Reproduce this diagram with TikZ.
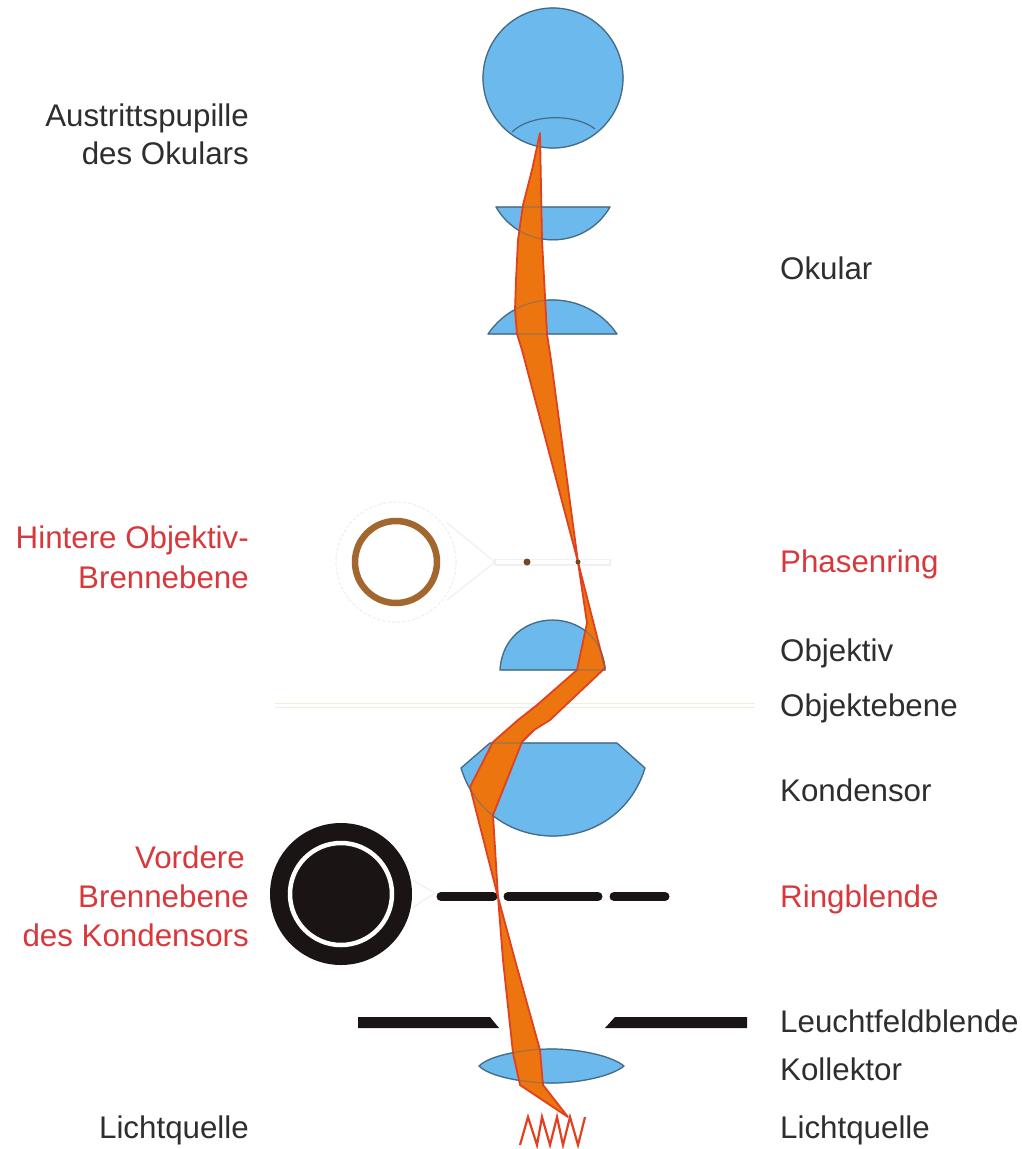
\documentclass[tikz,border=0pt]{standalone}
\usepackage{fontspec}
\setmainfont{Liberation Sans}
\definecolor{lensblue}{HTML}{6CB9EE}
\definecolor{lensline}{HTML}{456C86}
\definecolor{rayfill}{HTML}{EC7510}
\definecolor{rayline}{HTML}{E2401E}
\definecolor{redtext}{HTML}{D8383C}
\definecolor{blacktext}{HTML}{2E2E2E}
\definecolor{ringbrown}{HTML}{A2672F}
\definecolor{faintgrey}{HTML}{EEF0F1}
\definecolor{planeline}{HTML}{F1EDDD}
\definecolor{diskblack}{HTML}{1A1514}
\tikzset{
  lens/.style={fill=lensblue,draw=lensline,line width=1.2pt,line join=round},
  lensedge/.style={draw=lensline,line width=1.2pt,line join=round,draw opacity=.45},
  rayshape/.style={fill=rayfill,draw=rayline,line width=1.8pt,line join=round},
  bar/.style={draw=diskblack,line width=9pt,line cap=round},
  faint/.style={draw=faintgrey,line width=1.2pt},
  lab/.style={font=\fontsize{31.3}{31.3}\selectfont,inner sep=0pt,anchor=base},
  lleft/.style={lab,anchor=base east},
  lright/.style={lab,anchor=base west},
  blk/.style={text=blacktext},
  redl/.style={text=redtext}
}
\begin{document}
\begin{tikzpicture}[x=1pt,y=-1pt]
\useasboundingbox[fill=white] (0,0) rectangle (1022,1149);
% object plane
\draw[planeline,line width=1pt] (275,703.5) -- (755,703.5);
\draw[planeline,line width=1pt] (275,707) -- (755,707);
% eye
\path[lens] (553,78) circle[radius=70];
\draw[lensline,line width=1.2pt] (512,132) .. controls (530,114) and (575,113) .. (595,129);
% eyepiece lenses
\path[lens] (496,207) .. controls (521.3,250.8) and (584.7,250.8) .. (610,207) -- cycle;
\path[lens] (488,334) .. controls (519,288.6) and (586,288.6) .. (617,334) -- cycle;
% objective
\path[lens] (500,670) .. controls (504,603.4) and (601,603.4) .. (605,670) -- cycle;
% condenser
\path[lens] (490,743) -- (617,743) -- (645,768) .. controls (617.3,858.7) and (488.7,858.7) .. (461,768) -- cycle;
% collector
\path[lens] (479,1066) .. controls (490,1055) and (525,1049) .. (552,1049) .. controls (580,1049) and (612,1056) .. (624,1066)
  .. controls (612,1076) and (580,1083) .. (552,1083) .. controls (525,1083) and (490,1077) .. (479,1066) -- cycle;
% phase ring inset
\draw[faint,dash pattern=on 3pt off 2pt] (396,562) circle[radius=60];
\draw[faint] (447,523) -- (495,562) -- (447,600);
\draw[faint] (495,559.5) rectangle (610,565);
\draw[ringbrown,line width=6.5pt] (396,562) circle[radius=41];
\fill[ringbrown!70!black] (527,562) circle[radius=3.5];
% annular stop inset
\draw[faint] (412,880) -- (435,893) -- (412,908);
\fill[diskblack] (341,894) circle[radius=71];
\draw[white,line width=4.5pt] (341,894) circle[radius=51];
\draw[bar] (441,896.5) -- (493,896.5);
\draw[bar] (508,896.5) -- (598,896.5);
\draw[bar] (614,896.5) -- (665,896.5);
% field stop
\fill[diskblack] (358,1017) -- (490,1017) -- (499,1028) -- (358,1028) -- cycle;
\fill[diskblack] (615,1017) -- (747,1017) -- (747,1028) -- (605,1028) -- cycle;
% ray
\path[rayshape] (540,133) -- (532,170) -- (523,205) -- (518,240) -- (516,280) -- (515,310) -- (517,334) -- (522,350)
  -- (578,562) -- (587,623) -- (577,670) -- (537,705) -- (518,720) -- (493,742) -- (470,787)
  -- (498,897) -- (503,960) -- (513,1053) -- (520,1085) -- (568,1117)
  -- (543,1085) -- (540,1050) -- (515,960) -- (498,897) -- (493,815) -- (522,742)
  -- (534,730) -- (550,720) -- (605,668) -- (578,562) -- (551,360) -- (547,334) -- (542,240) -- cycle;
\fill[ringbrown!70!black] (578,562) circle[radius=2.5];
% lens outlines seen through the ray
\path[lensedge] (553,78) circle[radius=70];
\path[lensedge] (496,207) .. controls (521.3,250.8) and (584.7,250.8) .. (610,207) -- cycle;
\path[lensedge] (488,334) .. controls (519,288.6) and (586,288.6) .. (617,334) -- cycle;
\path[lensedge] (500,670) .. controls (504,603.4) and (601,603.4) .. (605,670) -- cycle;
\path[lensedge] (490,743) -- (617,743) -- (645,768) .. controls (617.3,858.7) and (488.7,858.7) .. (461,768) -- cycle;
\path[lensedge] (479,1066) .. controls (490,1055) and (525,1049) .. (552,1049) .. controls (580,1049) and (612,1056) .. (624,1066)
  .. controls (612,1076) and (580,1083) .. (552,1083) .. controls (525,1083) and (490,1077) .. (479,1066) -- cycle;
% lamp filament
\draw[rayline,line width=2.2pt,line join=miter] (520,1145) -- (528,1117) -- (537,1145) -- (542,1117) -- (550,1145)
  -- (557,1117) -- (563,1145) -- (570,1117) -- (578,1145) -- (585,1117);
% left labels
\node[lleft,blk] (aus1) at (249,126) {Austrittspupille};
\node[lleft,blk] (aus2) at (249,164) {des Okulars};
\node[lleft,redl] (hin1) at (249,548) {Hintere Objektiv-};
\node[lleft,redl] (hin2) at (249,588) {Brennebene};
\node[lleft,redl] (vor1) at (245,868) {Vordere};
\node[lleft,redl] (vor2) at (249,907) {Brennebene};
\node[lleft,redl] (vor3) at (249,946) {des Kondensors};
\node[lleft,blk] (licl) at (249,1138) {Lichtquelle};
% right labels
\node[lright,blk] (oku) at (780,279) {Okular};
\node[lright,redl] (pha) at (780,572) {Phasenring};
\node[lright,blk] (obj) at (780,661) {Objektiv};
\node[lright,blk] (obe) at (780,716) {Objektebene};
\node[lright,blk] (kon) at (780,801) {Kondensor};
\node[lright,redl] (rin) at (780,907) {Ringblende};
\node[lright,blk] (leu) at (780,1032) {Leuchtfeldblende};
\node[lright,blk] (kol) at (780,1080) {Kollektor};
\node[lright,blk] (licr) at (780,1138) {Lichtquelle};
\end{tikzpicture}
\end{document}
